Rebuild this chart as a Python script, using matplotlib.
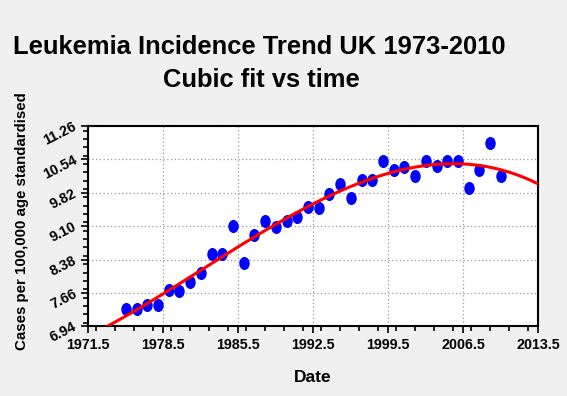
import numpy as np
import matplotlib
matplotlib.use("Agg")
import matplotlib.pyplot as plt
from matplotlib.path import Path
from matplotlib.transforms import Affine2D
from matplotlib.ticker import MultipleLocator, FixedLocator

plt.rcParams['font.family'] = ['Liberation Sans', 'DejaVu Sans']

years = list(range(1975, 2011))
rates = [7.31, 7.31, 7.40, 7.40, 7.72, 7.71, 7.89, 8.10, 8.49, 8.49,
         9.10, 8.30, 8.90, 9.21, 9.09, 9.21, 9.30, 9.51, 9.50, 9.79,
         10.00, 9.70, 10.10, 10.10, 10.51, 10.31, 10.38, 10.19, 10.51, 10.40,
         10.51, 10.51, 9.92, 10.31, 10.89, 10.19]

x_ticks = [1971.5, 1978.5, 1985.5, 1992.5, 1999.5, 2006.5, 2013.5]
y_ticks = [6.94, 7.66, 8.38, 9.10, 9.82, 10.54, 11.26]
y_tick_labels = ["6.94", "7.66", "8.38", "9.10", "9.82", "10.54", "11.26"]

W, H = 567, 396
fig = plt.figure(figsize=(W / 100, H / 100), dpi=100, facecolor='#F0F0F0')
ax = fig.add_axes([88.3 / W, 1 - 326.3 / H, (538.3 - 88.3) / W, (326.3 - 126) / H])
ax.set_facecolor('white')

# cubic fit of the data
xa = np.array(years, dtype=float)
ya = np.array(rates)
x0 = xa.mean()
coef = np.polyfit(xa - x0, ya, 3)
xf = np.linspace(x_ticks[0], x_ticks[-1], 400)
yf = np.polyval(coef, xf - x0)

ellipse = Path.unit_circle().transformed(Affine2D().scale(0.8, 1.0))
ax.plot(years, rates, linestyle='none', marker=ellipse, markersize=9.4,
        color='#0000FF', markeredgewidth=0, zorder=3)
ax.plot(xf, yf, color='#FF0000', linewidth=2.2, zorder=4, solid_capstyle='butt')

ax.set_xlim(x_ticks[0], x_ticks[-1])
ax.set_ylim(y_ticks[0], y_ticks[-1])
ax.xaxis.set_major_locator(FixedLocator(x_ticks))
ax.xaxis.set_minor_locator(MultipleLocator(1.75))
ax.yaxis.set_major_locator(FixedLocator(y_ticks))
ax.yaxis.set_minor_locator(MultipleLocator(0.18))
ax.set_xticklabels([f"{t:.1f}" for t in x_ticks], fontsize=10.3, fontweight='bold')
ax.set_yticklabels(y_tick_labels, fontsize=10.3, fontweight='bold',
                   rotation=27, ha='right', va='center', rotation_mode='anchor')

ax.tick_params(axis='both', which='major', direction='out', length=5, width=1.2, color='black')
ax.tick_params(axis='both', which='minor', direction='out', length=3.5, width=1.2, color='black')
ax.tick_params(axis='x', which='major', pad=3.5)
ax.tick_params(axis='y', which='major', pad=4)

for s in ax.spines.values():
    s.set_linewidth(1.5)
    s.set_color('black')

ax.grid(True, which='major', linestyle=(0, (1, 2)), color='#999999', linewidth=0.9)
ax.set_axisbelow(True)

fig.text(259 / W, 1 - 54.3 / H, "Leukemia Incidence Trend UK 1973-2010",
         ha='center', va='baseline', fontsize=18.4, fontweight='bold')
fig.text(261 / W, 1 - 86.7 / H, "Cubic fit vs time",
         ha='center', va='baseline', fontsize=18.4, fontweight='bold')
fig.text(22 / W, 1 - 221 / H, "Cases per 100,000 age standardised",
         ha='center', va='center', rotation=90, fontsize=10.8, fontweight='bold')
fig.text(313 / W, 1 - 377 / H, "Date", ha='center', va='center',
         fontsize=12.5, fontweight='bold')

fig.savefig("out.png", dpi=100, facecolor=fig.get_facecolor())
